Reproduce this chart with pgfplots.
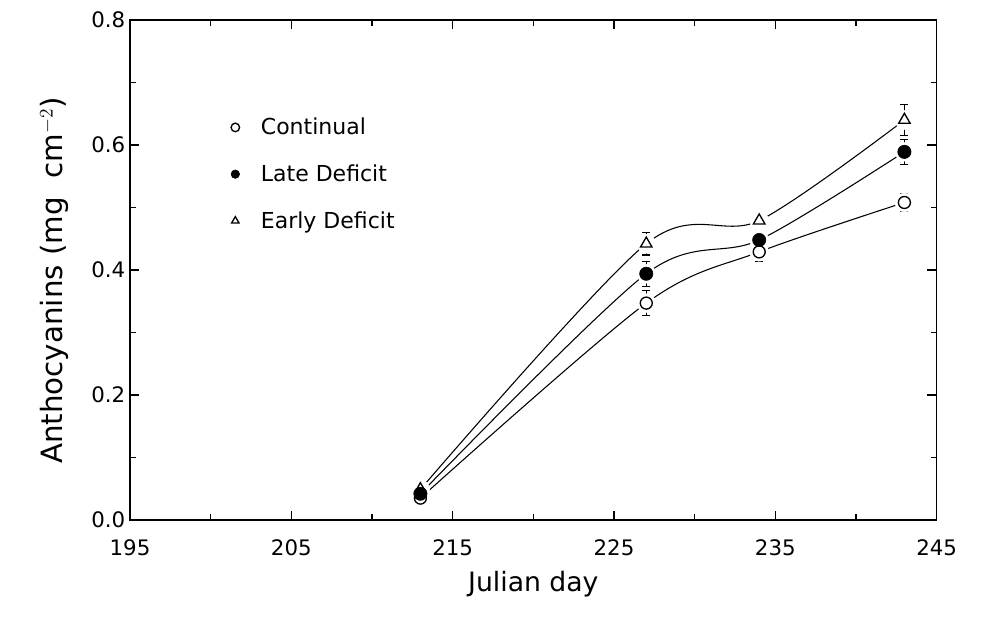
\documentclass[border=0pt]{standalone}
\usepackage{fontspec}
\setmainfont{DejaVu Sans}
\usepackage{pgfplots}
\pgfplotsset{compat=1.18}

\pgfplotstableread{
x y e
213 0.035 0.004
227 0.347 0.020
234 0.429 0.015
243 0.508 0.014
}\continual
\pgfplotstableread{
x y e
213 0.042 0.004
227 0.394 0.020
234 0.448 0.010
243 0.589 0.020
}\late
\pgfplotstableread{
x y e
213 0.049 0.004
227 0.442 0.018
234 0.479 0.012
243 0.640 0.025
}\early

\begin{document}
\begin{tikzpicture}[x=1pt,y=1pt]
\path[use as bounding box] (-97.5,-75) rectangle (639,390);
\begin{axis}[
  at={(0,0)},anchor=south west,
  scale only axis,
  width=605pt,height=375pt,
  xmin=195,xmax=245,ymin=0,ymax=0.8,
  xtick={195,205,...,245},
  ytick={0,0.2,...,0.8},
  minor x tick num=1,
  minor y tick num=1,
  tick align=inside,
  major tick length=7pt,
  minor tick length=4.5pt,
  axis line style={line width=1pt},
  tick style={line width=0.8pt,black},
  /pgf/number format/assume math mode=true,
  yticklabel style={/pgf/number format/.cd,fixed,fixed zerofill,precision=1},
  xticklabel style={yshift=-11pt,/pgf/number format/.cd,fixed,1000 sep={}},
  ticklabel style={font=\fontsize{16}{19}\selectfont},
  xlabel={Julian day},
  ylabel={Anthocyanins (mg\ \ cm$^{-2}$)},
  xlabel style={font=\fontsize{20}{24}\selectfont,yshift=-5pt},
  ylabel style={font=\fontsize{22}{26}\selectfont,yshift=10pt,xshift=-8pt},
  legend style={draw=none,fill=none,at={(0.12,0.815)},anchor=north west,
    font=\fontsize{16.5}{20}\selectfont,row sep=17pt,
    /tikz/every odd column/.append style={column sep=14pt}},
  legend image code/.code={\draw[#1] plot coordinates {(0.2cm,0cm)};},
  legend image post style={mark size=3.2pt},
  legend cell align=left,
]
% curves
\addplot[black,line width=0.8pt,smooth,forget plot] table[x=x,y=y] {\continual};
\addplot[black,line width=0.8pt,smooth,forget plot] table[x=x,y=y] {\late};
\addplot[black,line width=0.8pt,smooth,forget plot] table[x=x,y=y] {\early};
% white halos round the markers
\addplot[only marks,mark=*,mark size=7pt,white,forget plot] table[x=x,y=y] {\continual};
\addplot[only marks,mark=*,mark size=7pt,white,forget plot] table[x=x,y=y] {\late};
\addplot[only marks,mark=*,mark size=7pt,white,forget plot] table[x=x,y=y] {\early};
% markers with error bars
\addplot[only marks,black,mark=o,mark size=4.5pt,mark options={line width=1pt,fill=white},
  error bars/.cd,y dir=both,y explicit,
  error bar style={line width=0.8pt},
  error mark options={rotate=90,mark size=3pt,line width=0.8pt}]
  table[x=x,y=y,y error=e] {\continual};
\addlegendentry{Continual}
\addplot[only marks,black,mark=*,mark size=5pt,
  error bars/.cd,y dir=both,y explicit,
  error bar style={line width=0.8pt},
  error mark options={rotate=90,mark size=3pt,line width=0.8pt}]
  table[x=x,y=y,y error=e] {\late};
\addlegendentry{Late Deficit}
\addplot[only marks,black,mark=triangle,mark size=5pt,mark options={line width=1pt,fill=white},
  error bars/.cd,y dir=both,y explicit,
  error bar style={line width=0.8pt},
  error mark options={rotate=90,mark size=3pt,line width=0.8pt}]
  table[x=x,y=y,y error=e] {\early};
\addlegendentry{Early Deficit}
\end{axis}
\end{tikzpicture}
\end{document}
